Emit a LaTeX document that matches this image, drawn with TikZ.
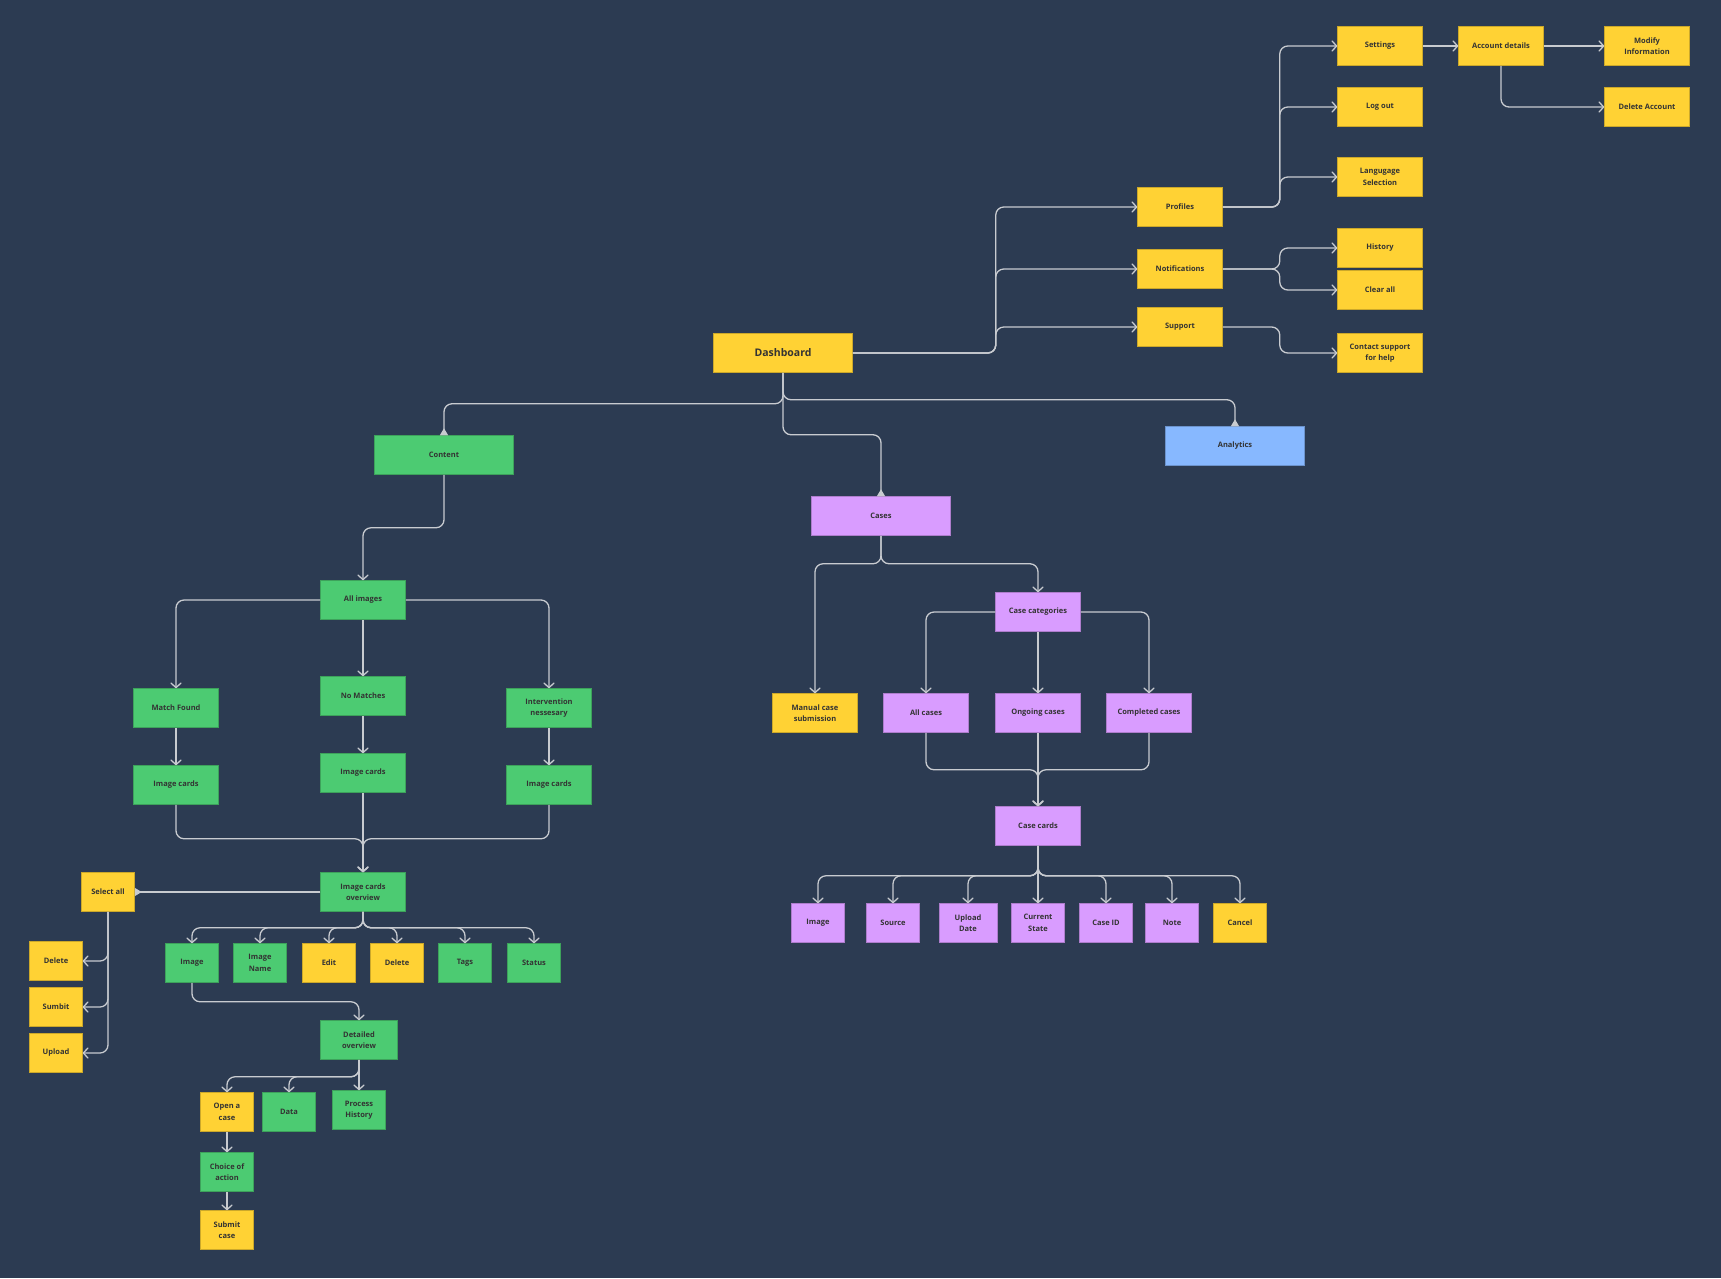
\documentclass[tikz,border=0pt]{standalone}
\usepackage{fontspec}
\setmainfont{Open Sans}
\usetikzlibrary{arrows.meta}

\definecolor{bg}{HTML}{2C3B52}
\definecolor{yel}{HTML}{FFD234}
\definecolor{grn}{HTML}{4CCB72}
\definecolor{pur}{HTML}{D99CFF}
\definecolor{blu}{HTML}{87B8FF}
\definecolor{lgray}{HTML}{C8CBD0}
\definecolor{txt}{HTML}{333333}

\begin{document}
\begin{tikzpicture}[x=1pt,y=-1pt,
	box/.style={draw=#1!80!black,fill=#1,line width=.5pt,minimum width=85pt,minimum height=39pt,inner sep=1pt,align=center,text=txt,font=\fontsize{7.5}{11.5}\selectfont\bfseries},
	box/.default=yel,
	wide/.style={minimum width=139pt},
	small/.style={minimum width=53pt},
	big/.style={font=\fontsize{10.5}{12}\selectfont\bfseries},
	link/.style={draw=lgray,line width=1.3pt,rounded corners=8pt,-{Straight Barb[length=4.5pt,width=10pt,round]}},
	tail/.style={draw=lgray,line width=1.3pt,rounded corners=8pt,-{Triangle[reversed,length=7pt,width=8pt]}}]
	\fill[bg] (0,0) rectangle (1721,1278);
	\useasboundingbox (0,0) rectangle (1721,1278);

	% dashboard and its menu
	\node[box,wide,big] (dash) at (783,353) {Dashboard};
	\node[box] (prof) at (1180,207) {Profiles};
	\node[box] (notif) at (1180,269) {Notifications};
	\node[box] (supp) at (1180,327) {Support};
	\node[box] (set) at (1380,46) {Settings};
	\node[box] (logout) at (1380,107) {Log out};
	\node[box] (lang) at (1380,177) {Langugage\\Selection};
	\node[box] (hist) at (1380,248) {History};
	\node[box] (clear) at (1380,290) {Clear all};
	\node[box] (help) at (1380,353) {Contact support\\for help};
	\node[box] (acct) at (1501,46) {Account details};
	\node[box] (modify) at (1647,46) {Modify\\Information};
	\node[box] (delacc) at (1647,107) {Delete Account};
	\node[box=blu,wide] (analyt) at (1235,446) {Analytics};

	% content
	\node[box=grn,wide] (cont) at (444,455) {Content};
	\node[box=grn] (allimg) at (363,600) {All images};
	\node[box=grn] (match) at (176,708) {Match Found};
	\node[box=grn] (nomatch) at (363,696) {No Matches};
	\node[box=grn] (interv) at (549,708) {Intervention\\nessesary};
	\node[box=grn] (cardsA) at (176,785) {Image cards};
	\node[box=grn] (cardsB) at (363,773) {Image cards};
	\node[box=grn] (cardsC) at (549,785) {Image cards};
	\node[box=grn] (ovw) at (363,892) {Image cards\\overview};
	\node[box,small] (selall) at (108,892) {Select all};
	\node[box,small] (sdel) at (56,961) {Delete};
	\node[box,small] (ssub) at (56,1007) {Sumbit};
	\node[box,small] (supl) at (56,1053) {Upload};
	\node[box=grn,small] (rimg) at (192,963) {Image};
	\node[box=grn,small] (rname) at (260,963) {Image\\Name};
	\node[box,small] (redit) at (329,963) {Edit};
	\node[box,small] (rdel) at (397,963) {Delete};
	\node[box=grn,small] (rtag) at (465,963) {Tags};
	\node[box=grn,small] (rstat) at (534,963) {Status};
	\node[box=grn,minimum width=77pt] (detail) at (359,1040) {Detailed\\overview};
	\node[box,small] (open) at (227,1112) {Open a\\case};
	\node[box=grn,small] (data) at (289,1112) {Data};
	\node[box=grn,small] (proc) at (359,1110) {Process\\History};
	\node[box=grn,small] (choice) at (227,1172) {Choice of\\action};
	\node[box,small] (submit) at (227,1230) {Submit\\case};

	% cases
	\node[box=pur,wide] (cases) at (881,516) {Cases};
	\node[box] (manual) at (815,713) {Manual case\\submission};
	\node[box=pur] (cat) at (1038,612) {Case categories};
	\node[box=pur] (allc) at (926,713) {All cases};
	\node[box=pur] (ongo) at (1038,713) {Ongoing cases};
	\node[box=pur] (compl) at (1149,713) {Completed cases};
	\node[box=pur] (ccards) at (1038,826) {Case cards};
	\node[box=pur,small] (cimg) at (818,923) {Image};
	\node[box=pur,small] (csrc) at (893,923) {Source};
	\node[box=pur,small,minimum width=58pt] (cdate) at (968,923) {Upload\\Date};
	\node[box=pur,small] (cstate) at (1038,923) {Current\\State};
	\node[box=pur,small] (cid) at (1106,923) {Case ID};
	\node[box=pur,small] (cnote) at (1172,923) {Note};
	\node[box,small] (ccancel) at (1240,923) {Cancel};

	% connectors
	\foreach \n in {prof,notif,supp} \draw[link] (dash.east) -- ++(143,0) |- (\n.west);
	\foreach \n in {set,logout,lang} \draw[link] (prof.east) -- ++(57,0) |- (\n.west);
	\foreach \n in {hist,clear} \draw[link] (notif.east) -- ++(57,0) |- (\n.west);
	\draw[link] (supp.east) -- ++(57,0) |- (help.west);
	\draw[link] (set) -- (acct);
	\draw[link] (acct) -- (modify);
	\draw[link] (acct.south) |- (delacc.west);
	\draw[tail] (dash.south) -- ++(0,27) -| (analyt.north);
	\draw[tail] (dash.south) -- ++(0,31) -| (cont.north);
	\draw[tail] (dash.south) -- ++(0,62) -| (cases.north);

	\draw[link] (cont.south) -- ++(0,53) -| (allimg.north);
	\draw[link] (allimg.west) -| (match.north);
	\draw[link] (allimg.east) -| (interv.north);
	\draw[link] (allimg) -- (nomatch);
	\draw[link] (match) -- (cardsA);
	\draw[link] (nomatch) -- (cardsB);
	\draw[link] (interv) -- (cardsC);
	\foreach \n in {cardsA,cardsC} \draw[link] (\n.south) -- ++(0,34) -| (ovw.north);
	\draw[link] (cardsB) -- (ovw);
	\draw[tail] (ovw.west) -- (selall.east);
	\foreach \n in {sdel,ssub,supl} \draw[link] (selall.south) |- (\n.east);
	\foreach \n in {rimg,rname,redit,rdel,rtag,rstat} \draw[link] (ovw.south) -- ++(0,16) -| (\n.north);
	\draw[link] (rimg.south) -- ++(0,19) -| (detail.north);
	\foreach \n in {open,data} \draw[link] (detail.south) -- ++(0,17) -| (\n.north);
	\draw[link] (detail) -- (proc);
	\draw[link] (open) -- (choice);
	\draw[link] (choice) -- (submit);

	\foreach \n in {manual,cat} \draw[link] (cases.south) -- ++(0,28) -| (\n.north);
	\draw[link] (cat.west) -| (allc.north);
	\draw[link] (cat.east) -| (compl.north);
	\draw[link] (cat) -- (ongo);
	\foreach \n in {allc,compl} \draw[link] (\n.south) -- ++(0,37) -| (ccards.north);
	\draw[link] (ongo) -- (ccards);
	\foreach \n in {cimg,csrc,cdate,cid,cnote,ccancel} \draw[link] (ccards.south) -- ++(0,30) -| (\n.north);
	\draw[link] (ccards) -- (cstate);
\end{tikzpicture}
\end{document}
